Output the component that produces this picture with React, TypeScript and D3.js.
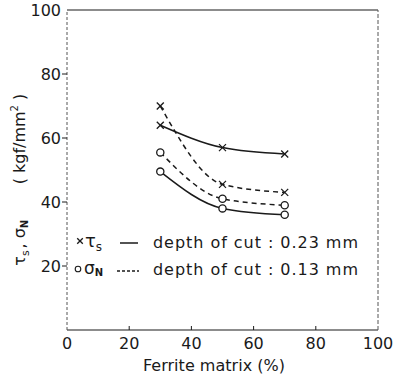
import React from 'react';
import * as d3 from 'd3';

// Ferrite matrix (%) where the four curves were measured
const ferrite = [30, 50, 70];

// tau_s and sigma_N (kgf/mm^2) for both depths of cut
const tauDeep = [64, 57, 55];      // x, solid  (0.23 mm)
const tauShallow = [70, 45.5, 43]; // x, dashed (0.13 mm)
const sigDeep = [49.5, 38, 36];    // o, solid  (0.23 mm)
const sigShallow = [55.5, 41, 39]; // o, dashed (0.13 mm)

const xTicks = [0, 20, 40, 60, 80, 100];
const yTicks = [20, 40, 60, 80, 100];

const series = [
  { values: tauDeep, marker: 'x', dashed: false },
  { values: tauShallow, marker: 'x', dashed: true },
  { values: sigDeep, marker: 'o', dashed: false },
  { values: sigShallow, marker: 'o', dashed: true },
];

const FONT = '"DejaVu Sans", sans-serif';
const INK = '#1a1a1a';

const App = () => {
  const width = 398;
  const height = 383;

  const x = d3.scaleLinear().domain([0, 100]).range([67, 378]);
  const y = d3.scaleLinear().domain([0, 100]).range([330, 10]);

  const line = d3.line<number>()
    .x((_, i) => x(ferrite[i]))
    .y(d => y(d))
    .curve(d3.curveMonotoneX);

  const cross = (cx: number, cy: number, s: number, key: string) => (
    <g key={key} stroke={INK} strokeWidth={1.3}>
      <line x1={cx - s} y1={cy - s} x2={cx + s} y2={cy + s} />
      <line x1={cx - s} y1={cy + s} x2={cx + s} y2={cy - s} />
    </g>
  );

  return (
    <svg width={width} height={height} style={{ position: 'absolute', left: 0, top: 0, background: '#fff' }}
      fontFamily={FONT}>
      {/* frame */}
      <line x1={x(0)} x2={x(100)} y1={y(100)} y2={y(100)} stroke={INK} strokeWidth={1.2} />
      <line x1={x(0)} x2={x(100)} y1={y(0)} y2={y(0)} stroke={INK} strokeWidth={1.2} />
      <line x1={x(0)} x2={x(0)} y1={y(0)} y2={y(100)} stroke="#555" strokeWidth={1} strokeDasharray="3,2" />
      <line x1={x(100)} x2={x(100)} y1={y(0)} y2={y(100)} stroke="#555" strokeWidth={1} strokeDasharray="4,2" />

      {/* y ticks */}
      {yTicks.map(t => (
        <g key={'y' + t}>
          {t < 100 && <line x1={x(0) - 5} x2={x(0)} y1={y(t)} y2={y(t)} stroke={INK} />}
          <text x={x(0) - 6} y={y(t)} dy="0.36em" textAnchor="end" fontSize={16} fill={INK}>{t}</text>
        </g>
      ))}

      {/* x ticks */}
      {xTicks.map(t => (
        <g key={'x' + t}>
          {t > 0 && t < 100 && <line x1={x(t)} x2={x(t)} y1={y(0)} y2={y(0) - 4} stroke={INK} />}
          <text x={x(t)} y={349} textAnchor="middle" fontSize={16} fill={INK}>{t}</text>
        </g>
      ))}

      {/* axis titles */}
      <text x={214} y={371} textAnchor="middle" fontSize={16} fill={INK} textLength={142}>Ferrite matrix (%)</text>
      <g fontSize={16} fill={INK}>
        <text transform="translate(25,258) rotate(-90)" textAnchor="middle">
          τ<tspan fontSize={11} dy={4}>s</tspan>
        </text>
        <text transform="translate(25,246) rotate(-90)" textAnchor="middle">,</text>
        <text transform="translate(25,229) rotate(-90)" textAnchor="middle">
          σ<tspan fontSize={10} fontWeight="bold" dy={3}>N</tspan>
        </text>
        <text transform="translate(25,139) rotate(-90)" textAnchor="middle">
          ( kgf/mm<tspan fontSize={10} dy={-7}>2</tspan><tspan dy={7}> )</tspan>
        </text>
      </g>

      {/* curves */}
      {series.map((s, i) => (
        <path key={'c' + i} d={line(s.values) || ''} fill="none" stroke={INK} strokeWidth={1.5}
          strokeDasharray={s.dashed ? '5,4' : undefined} />
      ))}

      {/* markers */}
      {series.map((s, i) => s.values.map((v, j) => s.marker === 'x'
        ? cross(x(ferrite[j]), y(v), 3.5, `m${i}-${j}`)
        : <circle key={`m${i}-${j}`} cx={x(ferrite[j])} cy={y(v)} r={3.6} fill="#fff" stroke={INK} strokeWidth={1.3} />
      ))}

      {/* legend */}
      {cross(80, 241, 2.8, 'lx')}
      <text x={85} y={247} fontSize={18} fill={INK}>τ<tspan fontSize={12} dy={4}>s</tspan></text>
      <line x1={120} x2={138} y1={243} y2={243} stroke={INK} strokeWidth={1.5} />
      <text x={153} y={248} fontSize={16} fill={INK} textLength={205}>depth of cut : 0.23 mm</text>

      <circle cx={78} cy={269} r={2.8} fill="#fff" stroke={INK} strokeWidth={1.1} />
      <text x={84} y={274} fontSize={17} fill={INK}>σ<tspan fontSize={10} fontWeight="bold" dy={2}>N</tspan></text>
      <line x1={117} x2={139} y1={271} y2={271} stroke={INK} strokeWidth={1.5} strokeDasharray="3,2" />
      <text x={153} y={275} fontSize={16} fill={INK} textLength={205}>depth of cut : 0.13 mm</text>
    </svg>
  );
};

export default App;
